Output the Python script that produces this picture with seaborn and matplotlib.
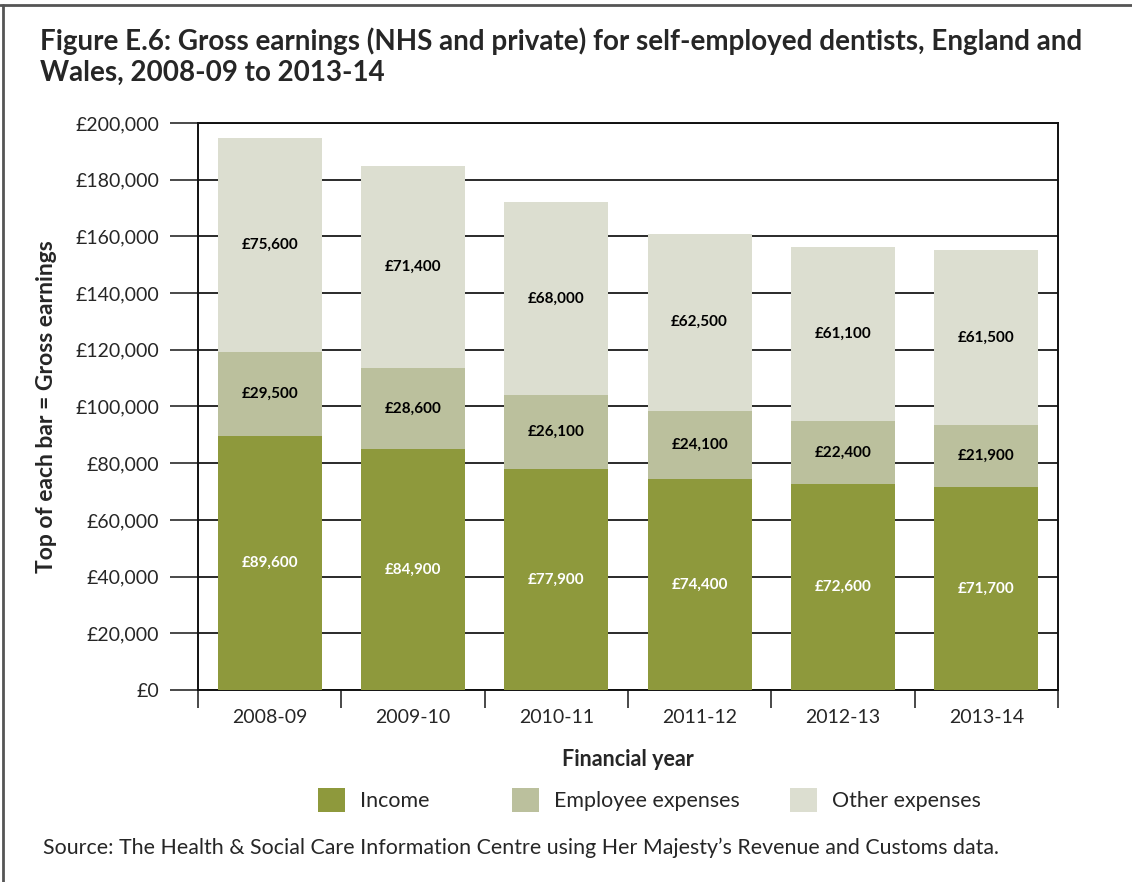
import matplotlib
matplotlib.use("Agg")
import matplotlib.pyplot as plt
from matplotlib.patches import Patch
from matplotlib.lines import Line2D
import seaborn as sns
import pandas as pd
import numpy as np

years = ["2008-09", "2009-10", "2010-11", "2011-12", "2012-13", "2013-14"]
income = [89600, 84900, 77900, 74400, 72600, 71700]
employee_expenses = [29500, 28600, 26100, 24100, 22400, 21900]
other_expenses = [75600, 71400, 68000, 62500, 61100, 61500]

series_names = ["Income", "Employee expenses", "Other expenses"]
colors = ["#8E993C", "#BBC09D", "#DCDED0"]

sns.set_style("white")
FONT = ["Lato", "DejaVu Sans"]
plt.rcParams["font.family"] = FONT

df = pd.DataFrame({
    "year": years,
    "income": income,
    "employee": employee_expenses,
    "other": other_expenses,
})
df["lvl1"] = df["income"]
df["lvl2"] = df["income"] + df["employee"]
df["lvl3"] = df["lvl2"] + df["other"]

fig = plt.figure(figsize=(11.32, 8.82), dpi=100)
ax = fig.add_axes([198 / 1132, 1 - 690 / 882, 860 / 1132, 567 / 882])

# stacked bars: draw cumulative totals from the top layer down
bar_w = 0.725
for col, c in zip(["lvl3", "lvl2", "lvl1"], colors[::-1]):
    sns.barplot(data=df, x="year", y=col, color=c, width=bar_w,
                saturation=1, ax=ax, zorder=3, linewidth=0)

# segment labels
for i in range(len(years)):
    y1 = income[i] / 2
    y2 = income[i] + employee_expenses[i] / 2
    y3 = income[i] + employee_expenses[i] + other_expenses[i] / 2
    ax.text(i, y1, f"£{income[i]:,}", ha="center", va="center",
            color="white", fontsize=11, fontweight="bold", zorder=5)
    ax.text(i, y2, f"£{employee_expenses[i]:,}", ha="center", va="center",
            color="black", fontsize=11, fontweight="bold", zorder=5)
    ax.text(i, y3, f"£{other_expenses[i]:,}", ha="center", va="center",
            color="black", fontsize=11, fontweight="bold", zorder=5)

ax.set_ylim(0, 200000)
ax.set_xlim(-0.5, len(years) - 0.5)
yt = np.arange(0, 200001, 20000)
ax.set_yticks(yt)
ax.set_yticklabels([f"£{v:,}" for v in yt], fontsize=14)
ax.yaxis.grid(True, color="#2a2a2a", linewidth=1.4, zorder=0)
ax.set_axisbelow(True)
ax.tick_params(axis="y", direction="out", length=20, width=1.2, color="#2a2a2a",
               pad=8, left=True)
ax.tick_params(axis="x", which="major", length=0, labelsize=14, pad=14)
ax.set_xticks(np.arange(-0.5, len(years), 1.0), minor=True)
ax.tick_params(axis="x", which="minor", direction="out", length=13, width=1.2,
               color="#2a2a2a", bottom=True)
for s in ax.spines.values():
    s.set_visible(True)
    s.set_color("#111111")
    s.set_linewidth(1.4)

ax.set_xlabel("Financial year", fontsize=15.5, fontweight="bold", labelpad=16)
ax.set_ylabel("Top of each bar = Gross earnings", fontsize=16.5, fontweight="bold",
              labelpad=13)

fig.text(40 / 1132, 1 - 27 / 882,
         "Figure E.6: Gross earnings (NHS and private) for self-employed dentists, England and\nWales, 2008-09 to 2013-14",
         ha="left", va="top", fontsize=20, fontweight="bold", linespacing=1.25)

# legend entries laid out in fixed-width slots
legend_x = [318, 512, 790]
for name, c, lx in zip(series_names, colors, legend_x):
    fig.legend([Patch(facecolor=c, edgecolor="none")], [name], loc="center left",
               bbox_to_anchor=(lx / 1132, 1 - 800 / 882), frameon=False,
               fontsize=15.4, handlelength=1.26, handleheight=1.4,
               handletextpad=0.7, borderpad=0, borderaxespad=0)

fig.text(43 / 1132, 1 - 848 / 882,
         "Source: The Health & Social Care Information Centre using Her Majesty\u2019s Revenue and Customs data.",
         ha="left", va="center", fontsize=15.4)

# frame lines along the top and left edges
fig.add_artist(Line2D([0, 1], [1 - 5 / 882, 1 - 5 / 882], transform=fig.transFigure,
                      color="#555555", linewidth=2))
fig.add_artist(Line2D([3 / 1132, 3 / 1132], [0, 1 - 5 / 882], transform=fig.transFigure,
                      color="#555555", linewidth=2))

fig.savefig("out.png", dpi=100)
